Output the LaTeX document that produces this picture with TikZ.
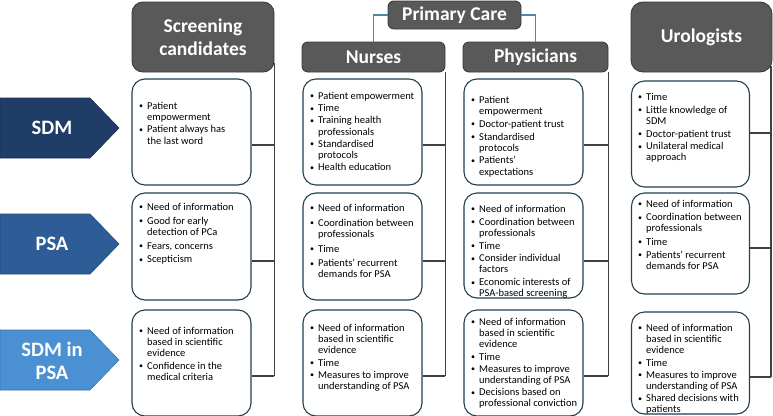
\documentclass[tikz,border=0pt]{standalone}
\usepackage{fontspec}
\setmainfont{Carlito}
\definecolor{hdrfill}{HTML}{595959}
\definecolor{hdrline}{HTML}{3B3B3B}
\definecolor{boxline}{HTML}{22404F}
\definecolor{conncol}{HTML}{404040}
\definecolor{pccol}{HTML}{4F86A8}
\definecolor{sdmcol}{HTML}{1F3D66}
\definecolor{psacol}{HTML}{2D5C96}
\definecolor{sdmpsacol}{HTML}{4A90D2}
\newcommand\nl{\hfil\break}
\newcommand\bl[1]{\par\hangindent=8pt\hangafter=1\noindent\hbox to 8pt{\raisebox{0.6pt}{\fontsize{8}{8}\selectfont\textbullet}\hss}#1\par}
\newcommand\btext[2]{\begin{minipage}{114pt}\raggedright\setlength\parskip{#1}\fontsize{10.5}{11.2}\selectfont #2\end{minipage}}
\tikzset{
  hdr/.style={draw=hdrline, fill=hdrfill, line width=0.9pt, rounded corners=#1, text=white,
    font=\bfseries\fontsize{19.5}{23}\selectfont, align=center, inner sep=0},
  hdr/.default=10pt,
  cbox/.style={draw=boxline, line width=1.1pt, rounded corners=13pt, fill=white, inner sep=0},
  btxt/.style={anchor=north west, inner sep=0},
  conn/.style={draw=conncol, line width=1.1pt},
  pcline/.style={draw=pccol, line width=1.2pt},
  chev/.style={line width=0.6pt},
  chevlab/.style={text=white, font=\bfseries\fontsize{20.5}{23}\selectfont, align=center, inner sep=0}
}
\begin{document}
\begin{tikzpicture}[x=1pt,y=-1pt]
\useasboundingbox (0,0) rectangle (773,415);
% row chevrons
\draw[chev, fill=sdmcol, draw=sdmcol!80!black] (0,98) -- (90,98) -- (119,128) -- (90,158) -- (0,158) -- cycle;
\node[chevlab] (lsdm) at (52,128) {SDM};
\draw[chev, fill=psacol, draw=psacol!80!black] (0,214) -- (90,214) -- (119,244) -- (90,274) -- (0,274) -- cycle;
\node[chevlab] (lpsa) at (52,244) {PSA};
\draw[chev, fill=sdmpsacol, draw=sdmpsacol!80!black] (0,330) -- (90,330) -- (119,360) -- (90,390) -- (0,390) -- cycle;
\node[chevlab] (lsdmpsa) at (52,361) {SDM in\\PSA};
% headers
\node[hdr=11pt, minimum width=142pt, minimum height=70pt] (scr) at (203,37) {Screening\\candidates};
\node[hdr=6pt, minimum width=133pt, minimum height=28pt] (pc) at (454.5,15) {Primary Care};
\node[hdr=6pt, minimum width=143pt, minimum height=30pt] (nur) at (373.5,57) {Nurses};
\node[hdr=6pt, minimum width=145pt, minimum height=30pt] (phy) at (535.5,57) {Physicians};
\node[hdr=12pt, minimum width=141pt, minimum height=70pt] (uro) at (701.5,37) {Urologists};
\draw[pcline] (pc.west) -| (nur.north);
\draw[pcline] (pc.east) -| (phy.north);
% content boxes
\node[cbox, minimum width=119pt, minimum height=106pt] (c11) at (191.5,132) {};
\node[cbox, minimum width=119pt, minimum height=107pt] (c12) at (191.5,246.5) {};
\node[cbox, minimum width=119pt, minimum height=106pt] (c13) at (191.5,363) {};
\node[cbox, minimum width=119pt, minimum height=106pt] (n1) at (362.5,132) {};
\node[cbox, minimum width=119pt, minimum height=107pt] (n2) at (362.5,246.5) {};
\node[cbox, minimum width=119pt, minimum height=106pt] (n3) at (362.5,363) {};
\node[cbox, minimum width=119pt, minimum height=106pt] (p1) at (523.5,132) {};
\node[cbox, minimum width=119pt, minimum height=105pt] (p2) at (523.5,245.5) {};
\node[cbox, minimum width=119pt, minimum height=106pt] (p3) at (523.5,363) {};
\node[cbox, minimum width=118pt, minimum height=106pt] (u1) at (690.5,134) {};
\node[cbox, minimum width=118pt, minimum height=101pt] (u2) at (690.5,243.5) {};
\node[cbox, minimum width=118pt, minimum height=102pt] (u3) at (690.5,363) {};
% texts
\node[btxt] (tc11) at (139,102) {\btext{1pt}{\bl{Patient\nl empowerment}\bl{Patient always has\nl the last word}}};
\node[btxt] (tc12) at (139,203) {\btext{2.5pt}{\bl{Need of information}\bl{Good for early\nl detection of PCa}\bl{Fears, concerns}\bl{Scepticism}}};
\node[btxt] (tc13) at (139,327) {\btext{1pt}{\bl{Need of information\nl based in scientific\nl evidence}\bl{Confidence in the\nl medical criteria}}};
\node[btxt] (tn1) at (310,92) {\btext{1pt}{\bl{Patient empowerment}\bl{Time}\bl{Training health\nl professionals}\bl{Standardised\nl protocols}\bl{Health education}}};
\node[btxt] (tn2) at (310,204) {\btext{3.5pt}{\bl{Need of information}\bl{Coordination between\nl professionals}\bl{Time}\bl{Patients’ recurrent\nl demands for PSA}}};
\node[btxt] (tn3) at (310,324) {\btext{1pt}{\bl{Need of information\nl based in scientific\nl evidence}\bl{Time}\bl{Measures to improve\nl understanding of PSA}}};
\node[btxt] (tp1) at (471,96) {\btext{1.5pt}{\bl{Patient\nl empowerment}\bl{Doctor-patient trust}\bl{Standardised\nl protocols}\bl{Patients’\nl expectations}}};
\node[btxt] (tp2) at (471,205) {\btext{1.5pt}{\bl{Need of information}\bl{Coordination between\nl professionals}\bl{Time}\bl{Consider individual\nl factors}\bl{Economic interests of\nl PSA-based screening}}};
\node[btxt] (tp3) at (471,318) {\btext{1pt}{\bl{Need of information\nl based in scientific\nl evidence}\bl{Time}\bl{Measures to improve\nl understanding of PSA}\bl{Decisions based on\nl professional conviction}}};
\node[btxt] (tu1) at (638,93) {\btext{1.5pt}{\bl{Time}\bl{Little knowledge of\nl SDM}\bl{Doctor-patient trust}\bl{Unilateral medical\nl approach}}};
\node[btxt] (tu2) at (638,200) {\btext{2pt}{\bl{Need of information}\bl{Coordination between\nl professionals}\bl{Time}\bl{Patients’ recurrent\nl demands for PSA}}};
\node[btxt] (tu3) at (638,324) {\btext{1pt}{\bl{Need of information\nl based in scientific\nl evidence}\bl{Time}\bl{Measures to improve\nl understanding of PSA}\bl{Shared decisions with\nl patients}}};
% connectors
\draw[conn] (scr.east |- 0,63) -- (scr.east |- 0,376);
\draw[conn] (c11.east |- 0,145) -- (scr.east |- 0,145);
\draw[conn] (c12.east |- 0,261) -- (scr.east |- 0,261);
\draw[conn] (c13.east |- 0,376) -- (scr.east |- 0,376);
\draw[conn] (nur.south east) -- (nur.east |- 0,376);
\draw[conn] (n1.east |- 0,145) -- (nur.east |- 0,145);
\draw[conn] (n2.east |- 0,261) -- (nur.east |- 0,261);
\draw[conn] (n3.east |- 0,376) -- (nur.east |- 0,376);
\draw[conn] (phy.south east) -- (phy.east |- 0,376);
\draw[conn] (p1.east |- 0,145) -- (phy.east |- 0,145);
\draw[conn] (p2.east |- 0,261) -- (phy.east |- 0,261);
\draw[conn] (p3.east |- 0,376) -- (phy.east |- 0,376);
\draw[conn] ([xshift=-1.5pt]uro.east |- 0,66) -- ([xshift=-1.5pt]uro.east |- 0,377);
\draw[conn] (u1.east |- 0,133) -- ([xshift=-1.5pt]uro.east |- 0,133);
\draw[conn] (u2.east |- 0,248) -- ([xshift=-1.5pt]uro.east |- 0,248);
\draw[conn] (u3.east |- 0,377) -- ([xshift=-1.5pt]uro.east |- 0,377);
\end{tikzpicture}
\end{document}
